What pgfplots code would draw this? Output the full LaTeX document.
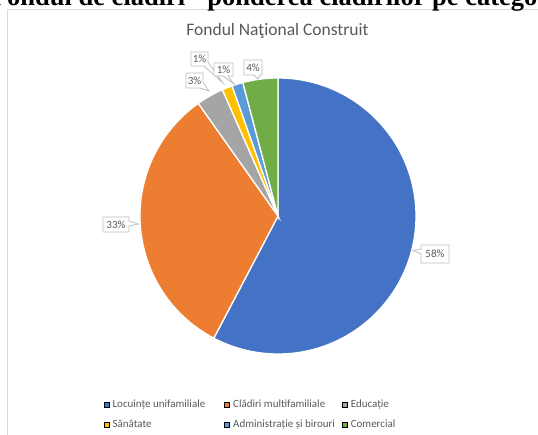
\documentclass[border=0pt]{standalone}
\usepackage{pgfplots}
\pgfplotsset{compat=1.18}
\usepackage{pgfplotstable}
\usepackage{fontspec}
\setmainfont{Carlito}
\newfontfamily\serifhead{Liberation Serif}

\definecolor{pieblue}{HTML}{4472C4}
\definecolor{pieorange}{HTML}{ED7D31}
\definecolor{piegray}{HTML}{A5A5A5}
\definecolor{pieyellow}{HTML}{FFC000}
\definecolor{pielightblue}{HTML}{5B9BD5}
\definecolor{piegreen}{HTML}{70AD47}
\definecolor{textgray}{HTML}{595959}
\definecolor{framegray}{HTML}{D9D9D9}
\definecolor{calloutgray}{HTML}{BFBFBF}

% share of each category, in percent (clockwise from 12 o'clock)
\pgfplotstableread{
value
57.7
32.5
3.2
1.2
1.3
4.1
}\piedata

\begin{document}
\begin{tikzpicture}
\def\cum{90}
\pgfplotsforeachungrouped \i in {0,...,5}{%
  \pgfplotstablegetelem{\i}{value}\of\piedata
  \pgfmathsetmacro\stopang{\cum-3.6*\pgfplotsretval}%
  \expandafter\xdef\csname sa\i\endcsname{\cum}%
  \expandafter\xdef\csname ea\i\endcsname{\stopang}%
  \xdef\cum{\stopang}%
}
\begin{axis}[
  scale only axis, width=538pt, height=435pt,
  xmin=0, xmax=538, ymin=0, ymax=435, y dir=reverse,
  hide axis, clip=false,
  legend columns=3,
  legend cell align=left,
  legend image code/.code={\fill[#1] (0pt,-2.6pt) rectangle (5.2pt,2.6pt);},
  legend style={at={(axis cs:103.5,400)}, anchor=north west, draw=none, fill=none,
    inner sep=0pt, outer sep=0pt, font=\fontsize{11}{13}\selectfont, text=textgray,
    row sep=11pt,
    /tikz/every odd column/.append style={column sep=3.5pt},
    /tikz/every even column/.append style={column sep=0pt},
    nodes={inner sep=0pt}},
]
% frame
\draw[framegray, line width=0.8pt] (axis cs:7.5,600) -- (axis cs:7.5,9.5) -- (axis cs:700,9.5);
% cropped heading of the page
\node[anchor=base west, inner sep=0pt, font=\serifhead\bfseries\fontsize{26.5}{30}\selectfont]
  at (axis cs:7,6) {\llap{F}ondul de clădiri - ponderea clădirilor pe categorii};
% title
\node[textgray, font=\fontsize{17.5}{20}\selectfont] at (axis cs:277.5,30.5) {Fondul Naţional Construit};
% slices
\fill[pieblue, draw=white, line width=1.3pt] (axis cs:278,216) -- ++(\csname sa0\endcsname:138pt)
  arc[start angle=\csname sa0\endcsname, end angle=\csname ea0\endcsname, radius=138pt] -- cycle;
\fill[pieorange, draw=white, line width=1.3pt] (axis cs:278,216) -- ++(\csname sa1\endcsname:138pt)
  arc[start angle=\csname sa1\endcsname, end angle=\csname ea1\endcsname, radius=138pt] -- cycle;
\fill[piegray, draw=white, line width=1.3pt] (axis cs:278,216) -- ++(\csname sa2\endcsname:138pt)
  arc[start angle=\csname sa2\endcsname, end angle=\csname ea2\endcsname, radius=138pt] -- cycle;
\fill[pieyellow, draw=white, line width=1.3pt] (axis cs:278,216) -- ++(\csname sa3\endcsname:138pt)
  arc[start angle=\csname sa3\endcsname, end angle=\csname ea3\endcsname, radius=138pt] -- cycle;
\fill[pielightblue, draw=white, line width=1.3pt] (axis cs:278,216) -- ++(\csname sa4\endcsname:138pt)
  arc[start angle=\csname sa4\endcsname, end angle=\csname ea4\endcsname, radius=138pt] -- cycle;
\fill[piegreen, draw=white, line width=1.3pt] (axis cs:278,216) -- ++(\csname sa5\endcsname:138pt)
  arc[start angle=\csname sa5\endcsname, end angle=\csname ea5\endcsname, radius=138pt] -- cycle;
% data callouts
\tikzset{callout/.style={fill=white, draw=calloutgray, line width=0.8pt, line join=miter},
         clab/.style={textgray, font=\fontsize{11}{13}\selectfont, inner sep=0pt}}
\filldraw[callout] (axis cs:421,245) -- (axis cs:449,245) -- (axis cs:449,263) -- (axis cs:421,263)
  -- (axis cs:421,254) -- (axis cs:413,250.5) -- (axis cs:421,249) -- cycle;
\node[clab] at (axis cs:435,254) {58\%};
\filldraw[callout] (axis cs:103,217) -- (axis cs:129,217) -- (axis cs:129,221) -- (axis cs:138.5,224)
  -- (axis cs:129,226) -- (axis cs:129,232) -- (axis cs:103,232) -- cycle;
\node[clab] at (axis cs:116,224.5) {33\%};
\filldraw[callout] (axis cs:186,73) -- (axis cs:203,73) -- (axis cs:203,82) -- (axis cs:209,91)
  -- (axis cs:200,88) -- (axis cs:186,88) -- cycle;
\node[clab] at (axis cs:194.5,80.5) {3\%};
\filldraw[callout] (axis cs:191,52) -- (axis cs:208,52) -- (axis cs:208,62) -- (axis cs:223,83)
  -- (axis cs:204,66) -- (axis cs:191,66) -- cycle;
\node[clab] at (axis cs:199.5,59) {1\%};
\filldraw[callout] (axis cs:214,63) -- (axis cs:233,63) -- (axis cs:233,76) -- (axis cs:228,76)
  -- (axis cs:234,84) -- (axis cs:223,76) -- (axis cs:214,76) -- cycle;
\node[clab] at (axis cs:223.5,69.5) {1\%};
\filldraw[callout] (axis cs:244,60) -- (axis cs:262,60) -- (axis cs:262,75) -- (axis cs:260,75)
  -- (axis cs:258,79) -- (axis cs:254,75) -- (axis cs:244,75) -- cycle;
\node[clab] at (axis cs:253,67.5) {4\%};
% legend
\addlegendimage{fill=pieblue}\addlegendentry{\makebox[111.5pt][l]{Locuințe unifamiliale}}
\addlegendimage{fill=pieorange}\addlegendentry{\makebox[108.5pt][l]{Clădiri multifamiliale}}
\addlegendimage{fill=piegray}\addlegendentry{Educație}
\addlegendimage{fill=pieyellow}\addlegendentry{\makebox[111.5pt][l]{Sănătate}}
\addlegendimage{fill=pielightblue}\addlegendentry{\makebox[108.5pt][l]{Administrație și birouri}}
\addlegendimage{fill=piegreen}\addlegendentry{Comercial}
\end{axis}
\pgfresetboundingbox
\useasboundingbox (current axis.south west) rectangle (current axis.north east);
\end{tikzpicture}
\end{document}
